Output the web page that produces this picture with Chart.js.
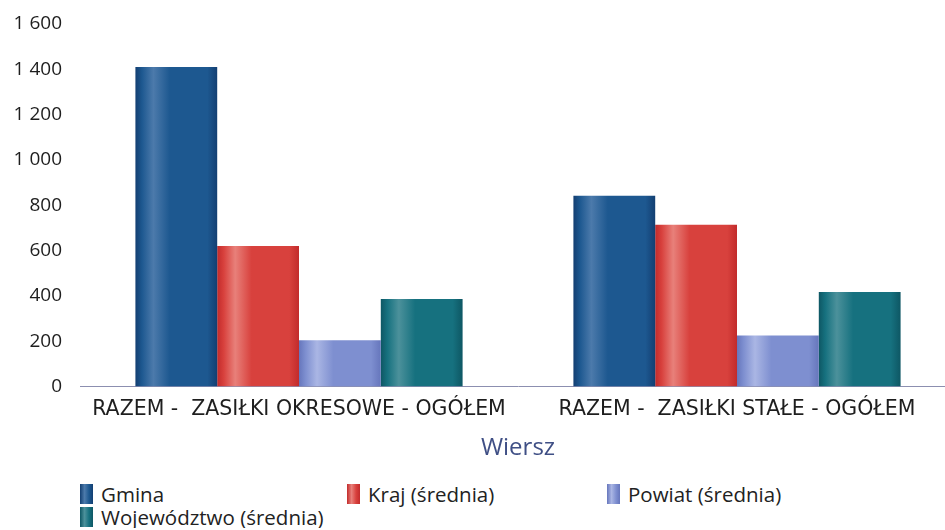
<!DOCTYPE html>
<html>
<head>
<meta charset="utf-8">
<script src="https://cdn.jsdelivr.net/npm/chart.js@4"></script>
<style>
  html, body { margin: 0; padding: 0; background: #fff; overflow: hidden; }
  #wrap { position: relative; width: 960px; height: 465px; }
  #legend {
    display: grid;
    grid-template-columns: 267px 260px 260px;
    margin-left: 80px;
    margin-top: 17px;
    font-family: "Open Sans", sans-serif;
    font-size: 20.5px;
    color: #222;
  }
  #legend span.item { display: flex; align-items: center; height: 23px; }
  #legend span.box { display: inline-block; width: 13px; height: 20px; margin-right: 8px; }
</style>
</head>
<body>
<div id="wrap"><canvas id="chart"></canvas></div>
<div id="legend"></div>
<script>
const categories = ["RAZEM -  ZASIŁKI OKRESOWE - OGÓŁEM", "RAZEM -  ZASIŁKI STAŁE - OGÓŁEM"];
const seriesNames = ["Gmina", "Kraj (średnia)", "Powiat (średnia)", "Województwo (średnia)"];
const gmina = [1410, 842];
const kraj = [620, 714];
const powiat = [205, 226];
const wojewodztwo = [387, 417];
const yTicks = [0, 200, 400, 600, 800, 1000, 1200, 1400, 1600];

// base, light stripe, dark edge
const palette = [
  ["#1d5890", "#4c7aab", "#133f72"],
  ["#d8413d", "#e8807a", "#c22b2b"],
  ["#7e8fd0", "#aab6e4", "#6676bc"],
  ["#16717f", "#4c919b", "#0e5764"]
];

const fmt = (v) => String(v).replace(/\B(?=(\d{3})+(?!\d))/g, " ");

// shaded "cylinder" look on every bar
const barShade = {
  id: "barShade",
  beforeDatasetsDraw(chart) {
    const ctx = chart.ctx;
    chart.data.datasets.forEach((ds, di) => {
      const meta = chart.getDatasetMeta(di);
      const c = palette[di];
      meta.data.forEach((bar) => {
        const x0 = bar.x - bar.width / 2;
        const g = ctx.createLinearGradient(x0, 0, x0 + bar.width, 0);
        g.addColorStop(0, c[2]);
        g.addColorStop(0.08, c[0]);
        g.addColorStop(0.22, c[1]);
        g.addColorStop(0.42, c[0]);
        g.addColorStop(0.88, c[0]);
        g.addColorStop(1, c[2]);
        bar.options = Object.assign({}, bar.options, { backgroundColor: g });
      });
    });
  }
};

const seriesData = [gmina, kraj, powiat, wojewodztwo];

new Chart(document.getElementById("chart").getContext("2d"), {
  type: "bar",
  plugins: [barShade],
  data: {
    labels: categories,
    datasets: seriesNames.map((name, i) => ({
      label: name,
      data: seriesData[i],
      backgroundColor: palette[i][0],
      borderWidth: 0,
      barPercentage: 1,
      categoryPercentage: 0.747
    }))
  },
  options: {
    animation: false,
    responsive: true,
    maintainAspectRatio: false,
    layout: { padding: { top: 24, right: 4, left: 0, bottom: 2 } },
    plugins: {
      legend: { display: false },
      tooltip: { enabled: false }
    },
    scales: {
      x: {
        grid: { display: false },
        border: { display: true, color: "#8c8fb0", width: 1 },
        ticks: {
          color: "#1e1e1e",
          font: { family: "DejaVu Sans", size: 20.5 },
          maxRotation: 0,
          padding: 3
        },
        title: {
          display: true,
          text: "Wiersz",
          color: "#3f4f85",
          font: { family: "Open Sans", size: 24 },
          padding: { top: 9, bottom: 0 }
        }
      },
      y: {
        min: 0,
        max: 1600,
        afterBuildTicks(axis) {
          axis.ticks = yTicks.map((v) => ({ value: v }));
        },
        afterFit(axis) {
          axis.width = 80;
        },
        grid: { display: false },
        border: { display: false },
        ticks: {
          color: "#1e1e1e",
          font: { family: "Open Sans", size: 19 },
          padding: 10,
          callback: (v) => fmt(v)
        }
      }
    }
  }
});

const legend = document.getElementById("legend");
seriesNames.forEach((name, i) => {
  const item = document.createElement("span");
  item.className = "item";
  const box = document.createElement("span");
  box.className = "box";
  box.style.background = "linear-gradient(to right, " + palette[i][2] + ", " + palette[i][1] + " 35%, " + palette[i][0] + " 70%, " + palette[i][2] + ")";
  item.appendChild(box);
  item.appendChild(document.createTextNode(name));
  legend.appendChild(item);
});
</script>
</body>
</html>
